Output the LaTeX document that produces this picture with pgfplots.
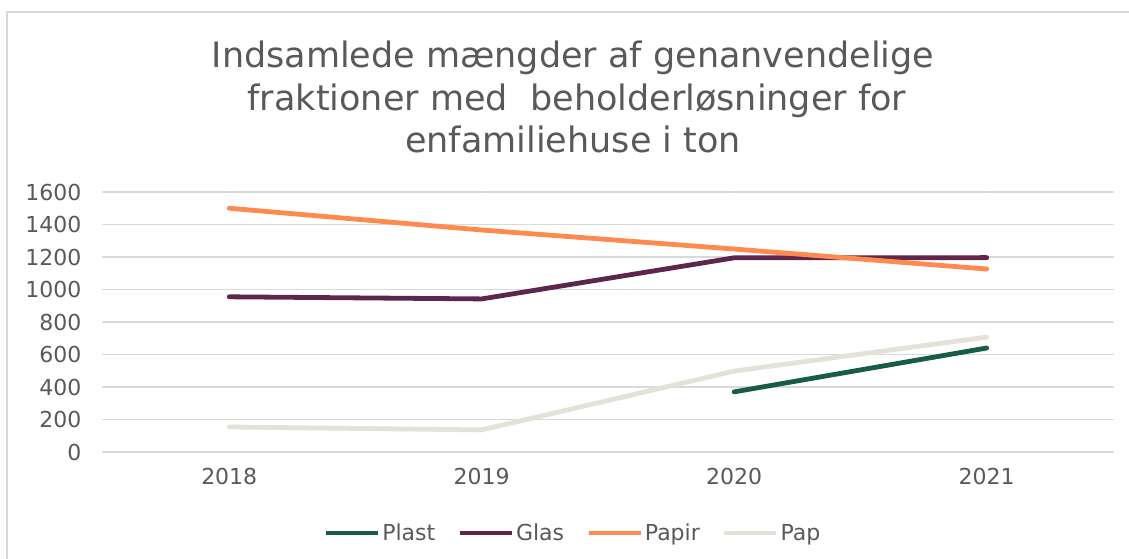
\documentclass[border=0pt]{standalone}
\usepackage{fontspec}
\setmainfont{DejaVu Sans}
\usepackage{pgfplots}
\pgfplotsset{compat=1.18}
\definecolor{txt}{HTML}{595959}
\definecolor{gridc}{HTML}{D9D9D9}
\definecolor{plast}{HTML}{175C43}
\definecolor{glas}{HTML}{5E264B}
\definecolor{papir}{HTML}{FF8A50}
\definecolor{pap}{HTML}{E4E1D8}
\begin{document}
\begin{tikzpicture}
\useasboundingbox (0,0) rectangle (1129pt,559pt);
\draw[gridc, line width=1.5pt] (7pt,-5pt) -- (7pt,547pt) -- (1140pt,547pt);
\node[anchor=base, text=txt, font=\fontsize{35}{42}\selectfont] at (573pt,491.3pt) {Indsamlede mængder af genanvendelige};
\node[anchor=base, text=txt, font=\fontsize{35}{42}\selectfont] at (577pt,448.8pt) {fraktioner med\ \ beholderløsninger for};
\node[anchor=base, text=txt, font=\fontsize{35}{42}\selectfont] at (573pt,406.3pt) {enfamiliehuse i ton};
\begin{axis}[
  at={(103pt,107pt)}, anchor=south west,
  width=1010pt, height=260pt, scale only axis,
  xmin=-0.5, xmax=3.5, ymin=0, ymax=1600,
  xtick={0,1,2,3}, xticklabels={2018,2019,2020,2021},
  ytick={0,200,...,1600},
  ymajorgrids, grid style={gridc, line width=1.8pt},
  axis line style={draw=none},
  major tick length=0pt,
  tick label style={text=txt, font=\fontsize{22}{26}\selectfont},
  /pgf/number format/assume math mode=true,
  /pgf/number format/1000 sep={},
  yticklabel style={xshift=-18pt},
  xticklabel style={yshift=-13pt},
  line cap=round, line join=round,
  every axis plot/.append style={line width=4.8pt},
  legend columns=4,
  legend style={at={(0.4653,-0.3115)}, anchor=center, draw=none, fill=none,
    font=\fontsize{22}{26}\selectfont, text=txt,
    /tikz/every even column/.append style={column sep=20pt},
    inner sep=0pt},
  legend cell align=left,
  legend image code/.code={\draw[#1, line width=4.8pt] (0pt,0pt) -- (52pt,0pt);},
]
\addplot[plast] coordinates {(2,370) (3,640)};
\addlegendentry{Plast}
\addplot[glas] coordinates {(0,955) (1,942) (2,1195) (3,1196)};
\addlegendentry{Glas}
\addplot[papir] coordinates {(0,1500) (1,1366) (2,1249) (3,1126)};
\addlegendentry{Papir}
\addplot[pap] coordinates {(0,154) (1,136) (2,498) (3,707)};
\addlegendentry{Pap}
\end{axis}
\end{tikzpicture}
\end{document}
